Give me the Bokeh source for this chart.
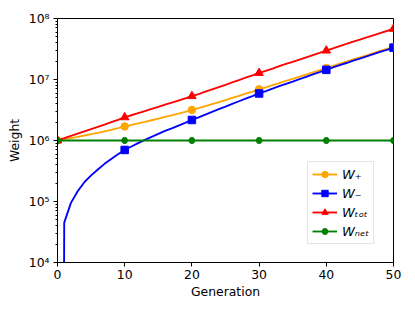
from bokeh.plotting import figure
from bokeh.models import ColumnDataSource, FixedTicker, Legend, LegendItem
from bokeh.embed import file_html
from bokeh.resources import INLINE

# ---- data (weights in millions) ----
generation = list(range(51))
w_plus_m = [1.000, 1.045, 1.095, 1.147, 1.207, 1.268, 1.334, 1.414, 1.498, 1.594,
            1.700, 1.797, 1.906, 2.021, 2.148, 2.283, 2.437, 2.585, 2.760, 2.949,
            3.170, 3.390, 3.655, 3.950, 4.260, 4.600, 4.990, 5.400, 5.860, 6.350,
            6.900, 7.450, 8.070, 8.760, 9.480, 10.25, 11.12, 12.06, 13.09, 14.18,
            15.40, 16.76, 18.16, 19.64, 21.30, 23.04, 24.94, 27.05, 29.34, 31.69,
            34.30]
w_minus_m = [0.000, 0.045, 0.095, 0.147, 0.207, 0.268, 0.334, 0.414, 0.498, 0.594,
             0.700, 0.797, 0.906, 1.021, 1.148, 1.283, 1.437, 1.585, 1.760, 1.949,
             2.170, 2.390, 2.655, 2.950, 3.260, 3.600, 3.990, 4.400, 4.860, 5.350,
             5.900, 6.450, 7.070, 7.760, 8.480, 9.250, 10.12, 11.06, 12.09, 13.18,
             14.40, 15.76, 17.16, 18.64, 20.30, 22.04, 23.94, 26.05, 28.34, 30.69,
             33.30]
w_tot_m = [1.000, 1.090, 1.190, 1.294, 1.414, 1.536, 1.668, 1.828, 1.996, 2.188,
           2.400, 2.594, 2.812, 3.042, 3.296, 3.566, 3.874, 4.170, 4.520, 4.898,
           5.340, 5.780, 6.310, 6.900, 7.520, 8.200, 8.980, 9.800, 10.72, 11.70,
           12.80, 13.90, 15.14, 16.52, 17.96, 19.50, 21.24, 23.12, 25.18, 27.36,
           29.80, 32.52, 35.32, 38.28, 41.60, 45.08, 48.88, 53.10, 57.68, 62.38,
           67.60]
w_net_m = [1.0] * 51

y_ticks = [1e4, 1e5, 1e6, 1e7, 1e8]
y_tick_labels = ["10\u2074", "10\u2075", "10\u2076", "10\u2077", "10\u2078"]
x_ticks = [0, 10, 20, 30, 40, 50]
marker_every = 10

FLOOR = 1e-30  # non-positive values clipped far below the axis (log scale)


def to_abs(vals):
    return [max(v * 1e6, FLOOR) for v in vals]


FONT = "DejaVu Sans"
FS = "12.4px"

p = figure(frame_width=336, frame_height=244, y_axis_type="log",
           x_range=(0, 50), y_range=(1e4, 1e8),
           output_backend="svg", toolbar_location=None,
           min_border_left=57, min_border_right=12, min_border_top=18,
           min_border_bottom=5)
p.background_fill_color = "white"
p.border_fill_color = "white"
p.outline_line_color = "black"
p.outline_line_width = 1
p.xgrid.visible = False
p.ygrid.visible = False

series = [
    ("W\u208A", w_plus_m, "orange", "circle", 7.5),
    ("W\u208B", w_minus_m, "blue", "square", 7.5),
    ("W\u209C\u2092\u209C", w_tot_m, "red", "triangle", 8.5),
    ("W\u2099\u2091\u209C", w_net_m, "green", "hex", 6.5),
]

items = []
for label, vals, color, marker, size in series:
    ys = to_abs(vals)
    src = ColumnDataSource(dict(x=generation, y=ys))
    msrc = ColumnDataSource(dict(x=generation[::marker_every], y=ys[::marker_every]))
    r1 = p.line("x", "y", source=src, line_color=color, line_width=1.85)
    r2 = p.scatter("x", "y", source=msrc, marker=marker, size=size,
                   fill_color=color, line_color=color)
    items.append(LegendItem(label=label, renderers=[r1, r2]))

legend = Legend(items=items, location=(250, 18))
legend.label_text_font = FONT
legend.label_text_font_size = "13px"
legend.label_text_font_style = "italic"
legend.label_text_color = "black"
legend.glyph_width = 25
legend.glyph_height = 16
legend.label_height = 16
legend.label_standoff = 5
legend.spacing = 3
legend.padding = 4
legend.margin = 0
legend.border_line_color = "#cccccc"
legend.border_line_width = 1
legend.background_fill_alpha = 0.8
p.add_layout(legend, "center")

for ax in (p.xaxis[0], p.yaxis[0]):
    ax.axis_line_color = "black"
    ax.major_tick_line_color = "black"
    ax.minor_tick_line_color = "black"
    ax.major_tick_out = 4
    ax.major_tick_in = 0
    ax.minor_tick_out = 2
    ax.minor_tick_in = 0
    ax.major_label_text_font = FONT
    ax.major_label_text_font_size = FS
    ax.major_label_text_color = "black"
    ax.axis_label_text_font = FONT
    ax.axis_label_text_font_size = FS
    ax.axis_label_text_font_style = "normal"
    ax.axis_label_text_color = "black"

minor = []
for d in range(4, 8):
    for k in range(2, 10):
        minor.append(k * 10 ** d)
p.yaxis[0].ticker = FixedTicker(ticks=y_ticks, minor_ticks=minor)
p.yaxis[0].major_label_overrides = {t: l for t, l in zip(y_ticks, y_tick_labels)}
p.yaxis[0].axis_label = "Weight"
p.yaxis[0].axis_label_standoff = 4
p.yaxis[0].major_label_standoff = 4

p.xaxis[0].ticker = FixedTicker(ticks=x_ticks, minor_ticks=[])
p.xaxis[0].minor_tick_out = 0
p.xaxis[0].axis_label = "Generation"
p.xaxis[0].axis_label_standoff = 2
p.xaxis[0].major_label_standoff = 3

open("out.html", "w").write(file_html(p, INLINE))
